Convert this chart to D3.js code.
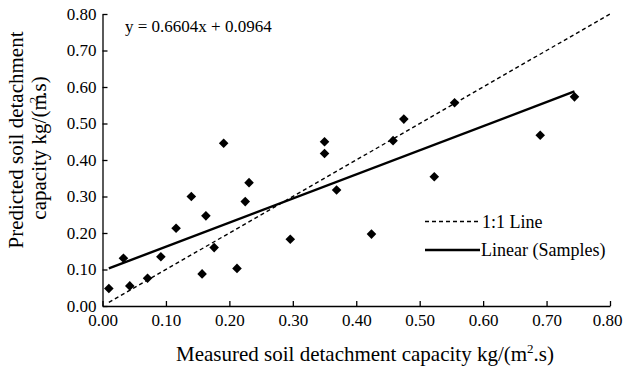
<!DOCTYPE html>
<html>
<head>
<meta charset="utf-8">
<script src="https://cdn.jsdelivr.net/npm/d3@7"></script>
<style>
  body { margin: 0; background: #fff; }
  svg text { font-family: "Liberation Serif", "Times New Roman", serif; fill: #000; }
</style>
</head>
<body>
<div id="container"></div>
<script>
let w = 623;
let h = 369;

// measured vs predicted detachment capacity
let measured  = [0.010, 0.033, 0.043, 0.071, 0.092, 0.116, 0.140, 0.157, 0.163, 0.176,
                 0.191, 0.212, 0.225, 0.231, 0.296, 0.350, 0.350, 0.369, 0.424, 0.458,
                 0.475, 0.523, 0.555, 0.690, 0.744];
let predicted = [0.048, 0.131, 0.055, 0.076, 0.135, 0.213, 0.300, 0.088, 0.247, 0.160,
                 0.446, 0.103, 0.286, 0.338, 0.183, 0.450, 0.418, 0.318, 0.197, 0.453,
                 0.512, 0.354, 0.557, 0.468, 0.573];
let slope = 0.6604;
let intercept = 0.0964;
let tickValues = [0, 0.1, 0.2, 0.3, 0.4, 0.5, 0.6, 0.7, 0.8];
let legendLabels = ["1:1 Line", "Linear (Samples)"];

let serif = "'Liberation Serif', 'Times New Roman', serif";

let viz = d3.select("#container").append("svg")
    .attr("width", w)
    .attr("height", h)
    .style("background-color", "white");

let xScale = d3.scaleLinear().domain([0, 0.8]).range([102.5, 610]);
let yScale = d3.scaleLinear().domain([0, 0.8]).range([306, 14]);

let fmt = d3.format(".2f");

// axes, ticks pointing inward
let xAxis = d3.axisBottom(xScale).tickValues(tickValues).tickFormat(fmt)
    .tickSizeInner(-5).tickSizeOuter(0).tickPadding(8);
let yAxis = d3.axisLeft(yScale).tickValues(tickValues).tickFormat(fmt)
    .tickSizeInner(-5).tickSizeOuter(0).tickPadding(6);

let xAxisGroup = viz.append("g").attr("transform", "translate(0," + yScale(0) + ")").call(xAxis);
let yAxisGroup = viz.append("g").attr("transform", "translate(" + xScale(0) + ",0)").call(yAxis);

xAxisGroup.attr("font-family", serif).attr("font-size", 17);
yAxisGroup.attr("font-family", serif).attr("font-size", 17);

viz.selectAll(".domain, .tick line").attr("stroke", "#000").attr("stroke-width", 1.3);
viz.selectAll(".tick text").attr("fill", "#000");

// last x label sits against the right edge, as in the original
xAxisGroup.selectAll(".tick text")
    .filter(function(d) { return d === 0.8; })
    .attr("text-anchor", "end")
    .attr("x", w - 1 - xScale(0.8));

// 1:1 line
viz.append("line")
    .attr("x1", xScale(0.01)).attr("y1", yScale(0.01))
    .attr("x2", xScale(0.8)).attr("y2", yScale(0.8))
    .attr("stroke", "#000").attr("stroke-width", 1.4)
    .attr("stroke-dasharray", "4,3");

// linear trend over the sample range
let ext = d3.extent(measured);
viz.append("line")
    .attr("x1", xScale(ext[0])).attr("y1", yScale(slope * ext[0] + intercept))
    .attr("x2", xScale(ext[1])).attr("y2", yScale(slope * ext[1] + intercept))
    .attr("stroke", "#000").attr("stroke-width", 2.4);

// sample points as diamonds
let points = measured.map(function(m, i) { return { x: m, y: predicted[i] }; });
viz.selectAll(".pt").data(points).enter().append("path")
    .attr("class", "pt")
    .attr("d", "M0,-4.8L4.8,0L0,4.8L-4.8,0Z")
    .attr("fill", "#000")
    .attr("transform", function(d) { return "translate(" + xScale(d.x) + "," + yScale(d.y) + ")"; });

// equation
viz.append("text")
    .attr("x", 125).attr("y", 32)
    .attr("font-family", serif)
    .attr("font-size", 17)
    .text("y = " + slope.toFixed(4) + "x + " + intercept.toFixed(4));

// legend
let legend = viz.append("g").attr("font-family", serif).attr("font-size", 18);
legend.append("line")
    .attr("x1", 425).attr("x2", 480).attr("y1", 221.5).attr("y2", 221.5)
    .attr("stroke", "#000").attr("stroke-width", 1.4).attr("stroke-dasharray", "4,3");
legend.append("text").attr("x", 482).attr("y", 227.5).text(legendLabels[0]);
legend.append("line")
    .attr("x1", 425).attr("x2", 480).attr("y1", 250).attr("y2", 250)
    .attr("stroke", "#000").attr("stroke-width", 2.4);
legend.append("text").attr("x", 481).attr("y", 256).text(legendLabels[1]);

// axis titles
let xTitle = viz.append("text")
    .attr("x", 365).attr("y", 361)
    .attr("text-anchor", "middle")
    .attr("font-family", serif)
    .attr("font-size", 21);
xTitle.append("tspan").text("Measured soil detachment capacity kg/(m");
xTitle.append("tspan").attr("dy", -8).attr("font-size", 13).text("2");
xTitle.append("tspan").attr("dy", 8).text(".s)");

let yTitle = viz.append("g").attr("font-family", serif).attr("font-size", 21);
yTitle.append("text")
    .attr("transform", "translate(23,140) rotate(-90)")
    .attr("text-anchor", "middle")
    .text("Predicted soil detachment");
let yTitle2 = yTitle.append("text")
    .attr("transform", "translate(46,148) rotate(-90)")
    .attr("text-anchor", "middle");
yTitle2.append("tspan").text("capacity kg/(m");
yTitle2.append("tspan").attr("dy", -8).attr("dx", -9).attr("font-size", 13).text("2");
yTitle2.append("tspan").attr("dy", 8).text(".s)");
</script>
</body>
</html>
